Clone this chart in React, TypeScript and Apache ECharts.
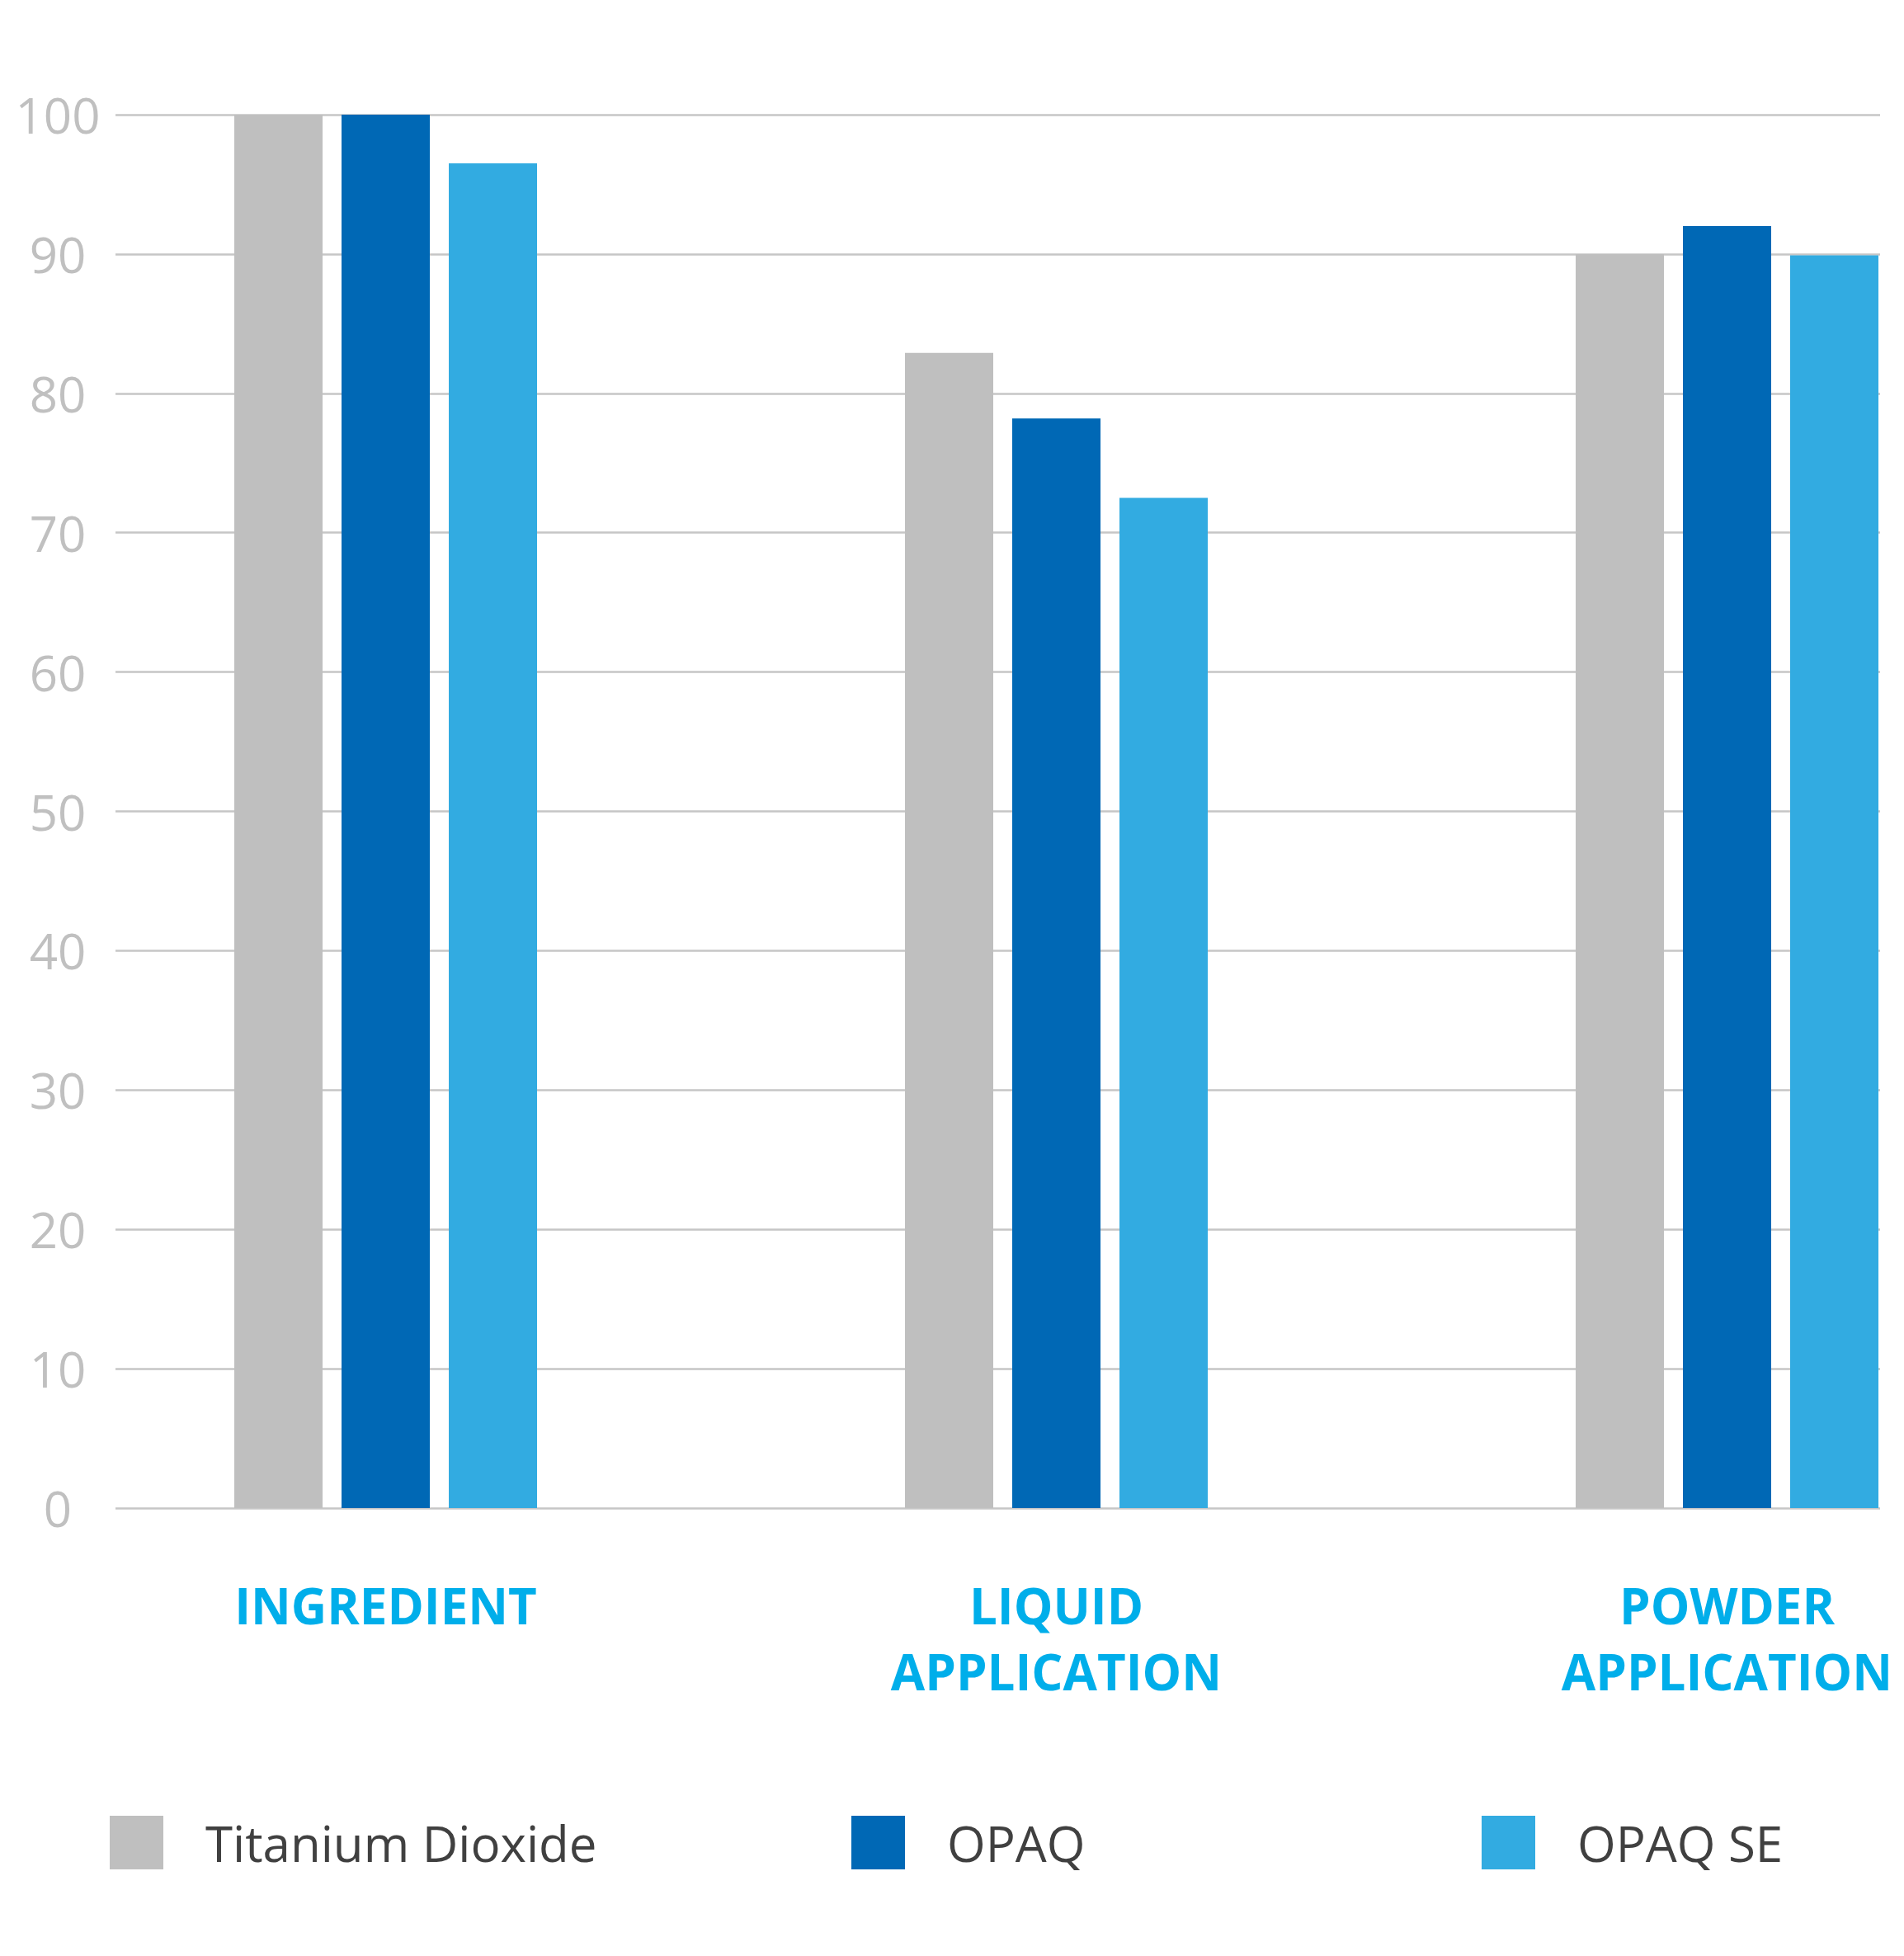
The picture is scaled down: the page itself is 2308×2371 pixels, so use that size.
import React, { useEffect, useRef } from "react";
import * as echarts from "echarts";

const categories = ["INGREDIENT", "LIQUID\nAPPLICATION", "POWDER\nAPPLICATION"];
const seriesNames = ["Titanium Dioxide", "OPAQ", "OPAQ SE"];
const titaniumDioxide = [100, 82.9, 90];
const opaq = [100, 78.2, 92];
const opaqSE = [96.5, 72.5, 89.9];
const colors = ["#BFBFBF", "#0068B5", "#32ABE1"];
const yMin = 0;
const yMax = 100;
const yInterval = 10;

const FONT = "'Open Sans', 'Noto Sans', sans-serif";

export default function App() {
  const ref = useRef<HTMLDivElement>(null);

  useEffect(() => {
    document.body.style.margin = "0";
    if (!ref.current) return;
    const chart = echarts.init(ref.current, undefined, { renderer: "svg" });

    const seriesData = [titaniumDioxide, opaq, opaqSE];
    const legendLefts = [133, 1032, 1796];

    const option: any = {
      animation: false,
      backgroundColor: "#ffffff",
      grid: [
        { left: 140, right: 29, top: 139, bottom: 543, containLabel: false, outerBoundsMode: "none" },
        { left: 61, width: 2439, top: 139, bottom: 543, containLabel: false, outerBoundsMode: "none" },
      ],
      xAxis: [
        { type: "category", gridIndex: 0, data: categories, show: false },
        {
          type: "category",
          gridIndex: 1,
          data: categories,
          axisLine: { show: false },
          axisTick: { show: false },
          splitLine: { show: false },
          axisLabel: {
            interval: 0,
            margin: 78,
            color: "#00AEEA",
            fontFamily: FONT,
            fontWeight: "bold",
            fontSize: 60,
            lineHeight: 80,
            align: "center",
            hideOverlap: false,
          },
        },
      ],
      yAxis: [
        {
          type: "value",
          gridIndex: 0,
          min: yMin,
          max: yMax,
          interval: yInterval,
          axisLine: { show: false },
          axisTick: { show: false },
          splitLine: { show: true, lineStyle: { color: "#C6C6C6", width: 2.5 } },
          axisLabel: {
            margin: 70,
            align: "center",
            color: "#C0C0C0",
            fontFamily: FONT,
            fontSize: 60,
          },
        },
        {
          type: "value",
          gridIndex: 1,
          min: yMin,
          max: yMax,
          interval: yInterval,
          show: false,
          splitLine: { show: false },
        },
      ],
      legend: seriesNames.map((name, i) => ({
        data: [name],
        left: legendLefts[i],
        top: 2201,
        padding: 0,
        icon: "rect",
        itemWidth: 65,
        itemHeight: 65,
        selectedMode: false,
        textStyle: {
          color: "#404040",
          fontFamily: FONT,
          fontSize: 60,
          padding: [0, 0, 0, 46],
        },
      })),
      series: seriesNames.map((name, i) => ({
        name,
        type: "bar",
        xAxisIndex: 1,
        yAxisIndex: 1,
        data: seriesData[i],
        barWidth: 107,
        barGap: "21.5%",
        itemStyle: { color: colors[i] },
        emphasis: { disabled: true },
      })),
    };

    chart.setOption(option);
    return () => chart.dispose();
  }, []);

  return <div ref={ref} style={{ width: 2308, height: 2371 }} />;
}
